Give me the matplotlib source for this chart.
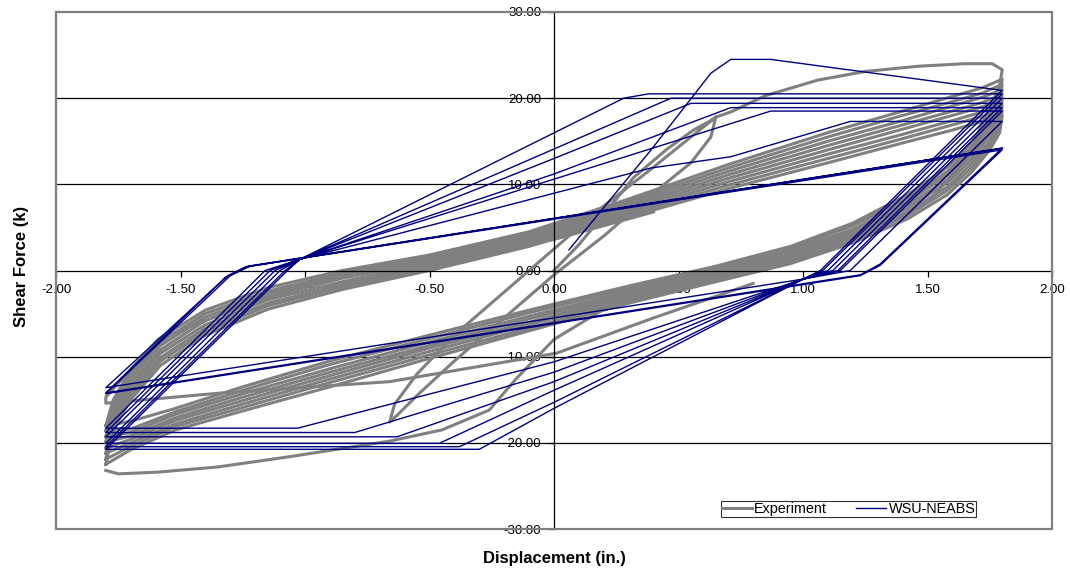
import matplotlib
matplotlib.use("Agg")
import matplotlib.pyplot as plt
from matplotlib.patches import Rectangle

plt.rcParams["font.family"] = ["Liberation Sans", "DejaVu Sans"]

# ---- model (WSU-NEABS) trace, displacement (in.) / shear force (k)
model_disp = [0.06, 0.39, 0.63, 0.71, 0.87, 1.80, 1.07, 1.00,
              0.00, -0.30, -1.80, -1.07, -1.02,
              0.28, 0.38, 1.80, 1.08, 1.00,
              0.00, -0.38, -1.80, -1.08, -1.02,
              0.00, 0.47, 1.80, 1.10, 1.00,
              0.00, -0.46, -1.80, -1.10, -1.02,
              0.00, 0.55, 1.80, 1.12, 1.00,
              0.00, -0.63, -1.80, -1.12, -1.02,
              0.00, 0.71, 1.80, 1.14, 1.00,
              0.00, -0.80, -1.80, -1.14, -1.02,
              0.00, 0.87, 1.80, 1.15, 1.00,
              0.00, -1.03, -1.80, -1.16, -1.02,
              0.39, 0.71, 1.19, 1.80, 1.19, 1.00,
              -1.80, -1.31, -1.23, 1.80, 1.31, 1.23,
              -1.80, -1.32, -1.24, 1.80, 1.31, 1.23,
              -1.80, -1.30, -1.22, 1.80]
model_force = [2.4, 14.0, 22.9, 24.5, 24.5, 20.9, 0.0, -1.0,
               -16.0, -20.75, -20.75, 0.0, 1.3,
               20.0, 20.5, 20.5, 0.0, -1.0,
               -15.3, -20.45, -20.45, 0.0, 1.3,
               14.1, 20.0, 20.0, 0.0, -1.0,
               -13.9, -20.05, -20.05, 0.0, 1.3,
               13.0, 19.4, 19.4, 0.0, -1.0,
               -12.9, -19.3, -19.3, 0.0, 1.3,
               11.2, 18.9, 18.9, 0.0, -1.0,
               -11.8, -18.8, -18.8, 0.0, 1.3,
               10.6, 18.5, 18.5, 0.0, -1.0,
               -10.6, -18.3, -18.3, 0.0, 1.3,
               11.9, 13.2, 17.3, 17.3, 0.0, -1.0,
               -13.6, -0.6, 0.5, 14.2, 0.75, -0.5,
               -14.2, -0.8, 0.4, 14.0, 0.6, -0.6,
               -14.3, -0.6, 0.5, 14.2]

# ---- experiment: early small cycles and first large excursion
early_disp = [0.00, 0.10, 0.20, 0.32, 0.45, 0.56, 0.63, 0.65, 0.63, 0.55, 0.40,
              0.20, 0.00, -0.20, -0.40, -0.55, -0.63, -0.66, -0.64, -0.55, -0.40,
              -0.20, 0.00, 0.20, 0.40, 0.55, 0.65]
early_force = [0.0, 3.0, 6.5, 10.8, 14.0, 16.3, 17.4, 17.8, 15.5, 12.5, 9.0,
               4.0, -0.5, -5.5, -10.5, -14.5, -16.8, -17.6, -15.5, -12.0, -7.5,
               -2.5, 2.5, 7.5, 12.0, 15.5, 17.8]

first_disp = [0.65, 0.71, 0.85, 1.06, 1.25, 1.46, 1.65, 1.76, 1.80, 1.79, 1.76,
              1.72, 1.66, 1.52, 1.32, 1.08, 0.79, 0.39, 0.20, 0.00, -0.15, -0.26,
              -0.45, -0.66, -1.06, -1.35, -1.59, -1.75, -1.80]
first_force = [17.8, 18.4, 20.3, 22.1, 23.1, 23.7, 24.0, 24.0, 23.3, 21.5, 19.5,
               17.1, 13.2, 8.5, 5.0, 2.7, 0.4, -1.9, -4.5, -8.0, -12.5, -16.2,
               -18.5, -19.8, -21.6, -22.8, -23.4, -23.6, -23.2]

# ---- experiment: repeated +/-1.8 in. cycles (same displacement path)
band_disp = [-1.80, -1.77, -1.70, -1.58, -1.40, -1.15, -0.85, -0.50,
             -0.10, 0.30, 0.70, 1.10, 1.40, 1.60, 1.72, 1.80,
             1.79, 1.75, 1.68, 1.58, 1.42, 1.20, 0.95, 0.65,
             0.30, -0.10, -0.50, -0.90, -1.25, -1.52, -1.70, -1.80]
band_force_1 = [-18.0, -15.0, -11.5, -7.8, -4.6, -2.0, 0.0, 1.8,
                4.5, 8.3, 12.3, 16.0, 18.5, 20.2, 21.2, 22.2,
                20.5, 18.0, 15.0, 12.0, 8.8, 5.5, 2.8, 0.5,
                -1.8, -4.6, -7.5, -10.5, -13.5, -16.0, -17.5, -18.0]
band_force_2 = [-18.6, -15.5, -12.0, -8.3, -5.0, -2.4, -0.3, 1.5,
                4.3, 8.0, 11.9, 15.5, 18.0, 19.6, 20.6, 21.6,
                19.9, 17.4, 14.5, 11.5, 8.4, 5.2, 2.5, 0.2,
                -2.1, -4.9, -7.9, -10.9, -13.9, -16.4, -18.4, -18.6]
band_force_3 = [-19.3, -16.0, -12.5, -8.7, -5.4, -2.7, -0.6, 1.3,
                4.0, 7.7, 11.5, 15.0, 17.4, 19.1, 20.1, 21.0,
                19.2, 16.9, 14.0, 11.1, 8.0, 4.8, 2.2, 0.0,
                -2.4, -5.3, -8.3, -11.4, -14.3, -16.7, -18.8, -19.3]
band_force_4 = [-19.9, -16.5, -13.0, -9.2, -5.8, -3.1, -0.9, 1.0,
                3.8, 7.4, 11.1, 14.5, 16.9, 18.5, 19.5, 20.4,
                18.6, 16.3, 13.5, 10.6, 7.6, 4.5, 1.9, -0.3,
                -2.7, -5.6, -8.7, -11.8, -14.7, -17.1, -19.2, -19.9]
band_force_5 = [-20.6, -17.0, -13.5, -9.6, -6.3, -3.4, -1.3, 0.8,
                3.5, 7.1, 10.7, 14.0, 16.4, 18.0, 19.0, 19.8,
                17.9, 15.7, 13.0, 10.2, 7.2, 4.2, 1.6, -0.5,
                -2.9, -6.0, -9.0, -12.2, -15.1, -17.4, -19.6, -20.6]
band_force_6 = [-21.2, -17.5, -14.0, -10.1, -6.7, -3.8, -1.6, 0.5,
                3.3, 6.8, 10.3, 13.5, 15.8, 17.4, 18.4, 19.2,
                17.3, 15.1, 12.5, 9.7, 6.8, 3.9, 1.4, -0.8,
                -3.2, -6.3, -9.4, -12.6, -15.5, -17.8, -20.0, -21.2]
band_force_7 = [-21.9, -18.0, -14.5, -10.5, -7.1, -4.1, -1.9, 0.3,
                3.0, 6.5, 9.9, 13.0, 15.3, 16.9, 17.9, 18.6,
                16.6, 14.6, 12.0, 9.3, 6.4, 3.5, 1.1, -1.0,
                -3.5, -6.7, -9.8, -13.0, -15.9, -18.1, -20.4, -21.9]
band_force_8 = [-22.5, -18.5, -15.0, -11.0, -7.5, -4.5, -2.2, 0.0,
                2.8, 6.2, 9.5, 12.5, 14.8, 16.3, 17.3, 18.0,
                16.0, 14.0, 11.5, 8.8, 6.0, 3.2, 0.8, -1.3,
                -3.8, -7.0, -10.2, -13.5, -16.3, -18.5, -20.8, -22.5]

# ---- experiment: last cycle with reduced negative peak
last_disp = [0.80, 0.40, 0.01, -0.66, -1.33, -1.80, -1.80, -1.59, -1.19, -0.79,
             -0.26, 0.00, 0.40]
last_force = [-1.5, -5.5, -9.6, -12.9, -14.2, -15.4, -14.7, -8.0, -3.4, 0.0,
              2.4, 3.6, 6.8]

band_forces = [band_force_1, band_force_2, band_force_3, band_force_4,
               band_force_5, band_force_6, band_force_7, band_force_8]

x_ticks = [-2.0, -1.5, -1.0, -0.5, 0.0, 0.5, 1.0, 1.5, 2.0]
y_ticks = [-30, -20, -10, 0, 10, 20, 30]

gray = "#808080"
navy = "#000080"

fig = plt.figure(figsize=(10.7, 5.74), dpi=100)
ax = fig.add_axes([56 / 1070, 1 - 529 / 574, 996 / 1070, 517 / 574])

ax.plot(early_disp, early_force, color=gray, lw=2.2, zorder=2,
        solid_joinstyle="round", label="Experiment")
ax.plot(first_disp, first_force, color=gray, lw=2.2, zorder=2, solid_joinstyle="round")
for f in band_forces:
    ax.plot(band_disp, f, color=gray, lw=2.2, zorder=2, solid_joinstyle="round")
ax.plot(last_disp, last_force, color=gray, lw=2.2, zorder=2, solid_joinstyle="round")

ax.plot(model_disp, model_force, color=navy, lw=1.0, zorder=3, label="WSU-NEABS")

ax.set_xlim(-2, 2)
ax.set_ylim(-30, 30)
for v in [-20, -10, 10, 20]:
    ax.axhline(v, color="black", lw=0.9, zorder=1)

ax.spines["left"].set_position(("data", 0))
ax.spines["bottom"].set_position(("data", 0))
ax.spines["left"].set_color("black")
ax.spines["bottom"].set_color("black")
ax.spines["left"].set_linewidth(0.9)
ax.spines["bottom"].set_linewidth(0.9)
ax.spines["top"].set_visible(False)
ax.spines["right"].set_visible(False)
ax.add_patch(Rectangle((0, 0), 1, 1, transform=ax.transAxes, fill=False,
                       ec=gray, lw=1.6, zorder=5, clip_on=False))

ax.set_xticks(x_ticks)
ax.set_yticks(y_ticks)
ax.set_xticklabels([f"{v:.2f}" for v in x_ticks])
ax.set_yticklabels([f"{v:.2f}" for v in y_ticks])
ax.tick_params(axis="both", direction="out", length=4, width=0.9,
               labelsize=9.5, colors="black")
ax.tick_params(axis="x", pad=6)
ax.tick_params(axis="y", pad=5)

fig.text(22 / 1070, 1 - 266 / 574, "Shear Force (k)", rotation=90,
         fontsize=12, fontweight="bold", ha="center", va="center")
fig.text(554 / 1070, 1 - 558 / 574, "Displacement (in.)",
         fontsize=12, fontweight="bold", ha="center", va="center")

leg = ax.legend(loc="center", bbox_to_anchor=(848.5 / 1070, 1 - 509 / 574),
                bbox_transform=fig.transFigure, ncol=2, fontsize=10.4,
                handlelength=2.1, handletextpad=0.15, columnspacing=2.0,
                borderpad=0.05, fancybox=False, frameon=True, borderaxespad=0)
leg.get_frame().set_edgecolor("black")
leg.get_frame().set_linewidth(0.8)

fig.savefig("out.png", dpi=100)
